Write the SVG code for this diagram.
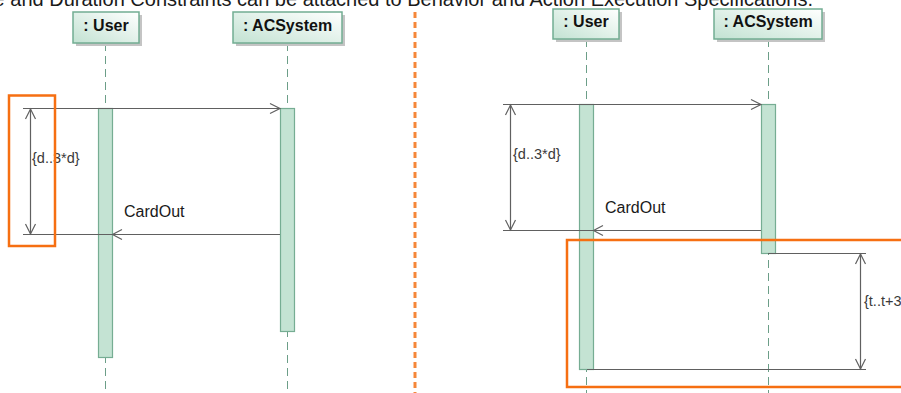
<svg xmlns="http://www.w3.org/2000/svg" width="901" height="393" viewBox="0 0 901 393">
<style>
.hdr{fill:url(#hg);stroke:#72ad92;stroke-width:1.5}
.shd{fill:#c4c4c4}
.hl{font-family:"Liberation Sans",Arial,sans-serif;font-weight:bold;font-size:16px;fill:#111;text-anchor:middle}
.life{stroke:#6c9e88;stroke-width:1;stroke-dasharray:8 5;fill:none}
.act{fill:#c4e3d3;stroke:#76ad93;stroke-width:1.2}
.msg{stroke:#606060;stroke-width:1.2;fill:none}
.lbl{font-family:"Liberation Sans",Arial,sans-serif;font-size:16px;fill:#1a1a1a}
.con{font-family:"Liberation Sans",Arial,sans-serif;font-size:14.5px;fill:#3a3a3a}
.hi{fill:none;stroke:#f66f12;stroke-width:2.5}
</style>
<defs>
<linearGradient id="hg" x1="0" y1="1" x2="1" y2="0">
<stop offset="0" stop-color="#c2e2d2"/>
<stop offset="1" stop-color="#ffffff"/>
</linearGradient>
</defs>
<rect width="901" height="393" fill="#fff"/>
<text x="-39" y="6" font-family="Liberation Sans,Arial,sans-serif" font-size="20" fill="#1a1a1a">Time and Duration Constraints can be attached to Behavior and Action Execution Specifications.</text>
<line x1="415" y1="12" x2="415" y2="393" stroke="#f5873a" stroke-width="3" stroke-dasharray="6 4"/>

<g id="user-left">
<line class="life" x1="105.5" y1="43" x2="105.5" y2="393"/>
<rect class="shd" x="76" y="15" width="66" height="31"/>
<rect class="hdr" x="73" y="12" width="66" height="31"/>
<text class="hl" x="106" y="31">: User</text>
</g>
<g id="acsystem-left">
<line class="life" x1="287.5" y1="43" x2="287.5" y2="393"/>
<rect class="shd" x="236" y="15" width="109" height="31"/>
<rect class="hdr" x="233" y="12" width="109" height="31"/>
<text class="hl" x="287.5" y="31">: ACSystem</text>
</g>
<g id="user-right">
<line class="life" x1="586.5" y1="39" x2="586.5" y2="393"/>
<rect class="shd" x="556" y="12" width="66" height="30"/>
<rect class="hdr" x="553" y="9" width="66" height="30"/>
<text class="hl" x="586" y="27">: User</text>
</g>
<g id="acsystem-right">
<line class="life" x1="768.5" y1="39" x2="768.5" y2="393"/>
<rect class="shd" x="717" y="12" width="108" height="30"/>
<rect class="hdr" x="714" y="9" width="108" height="30"/>
<text class="hl" x="768" y="27">: ACSystem</text>
</g>

<g id="activations">
<rect class="act" x="98.5" y="108.5" width="14" height="249"/>
<rect class="act" x="280.5" y="108.5" width="14" height="223"/>
<rect class="act" x="579.5" y="104.5" width="14" height="265"/>
<rect class="act" x="761.5" y="104.5" width="14" height="149"/>
</g>

<g id="connectors">
<line class="msg" x1="23" y1="108.5" x2="280" y2="108.5"/>
<polyline class="msg" points="270,103.5 280,108.5 270,113.5"/>
<line class="msg" x1="23" y1="234.5" x2="280" y2="234.5"/>
<polyline class="msg" points="122,229.5 112.5,234.5 122,239.5"/>
<line class="msg" x1="30.5" y1="109" x2="30.5" y2="234"/>
<polyline class="msg" points="25.5,119 30.5,109 35.5,119"/>
<polyline class="msg" points="25.5,224 30.5,234 35.5,224"/>

<line class="msg" x1="503" y1="104.5" x2="761" y2="104.5"/>
<polyline class="msg" points="751,99.5 761,104.5 751,109.5"/>
<line class="msg" x1="503" y1="230.5" x2="761" y2="230.5"/>
<polyline class="msg" points="603,225.5 593.5,230.5 603,235.5"/>
<line class="msg" x1="510.5" y1="105" x2="510.5" y2="230"/>
<polyline class="msg" points="505.5,115 510.5,105 515.5,115"/>
<polyline class="msg" points="505.5,220 510.5,230 515.5,220"/>

<line class="msg" x1="768" y1="253.5" x2="866" y2="253.5"/>
<line class="msg" x1="587" y1="369.5" x2="866" y2="369.5"/>
<line class="msg" x1="860.5" y1="254" x2="860.5" y2="369"/>
<polyline class="msg" points="855.5,264 860.5,254 865.5,264"/>
<polyline class="msg" points="855.5,359 860.5,369 865.5,359"/>
</g>

<g id="labels">
<text class="lbl" x="124" y="217">CardOut</text>
<text class="lbl" x="605" y="213">CardOut</text>
<text class="con" x="32" y="163">{d..3*d}</text>
<text class="con" x="513" y="159">{d..3*d}</text>
<text class="con" x="864" y="306">{t..t+3</text>
</g>

<g id="highlights">
<rect class="hi" x="9" y="95.5" width="46" height="150.5"/>
<rect class="hi" x="567" y="240" width="400" height="147"/>
</g>
</svg>
